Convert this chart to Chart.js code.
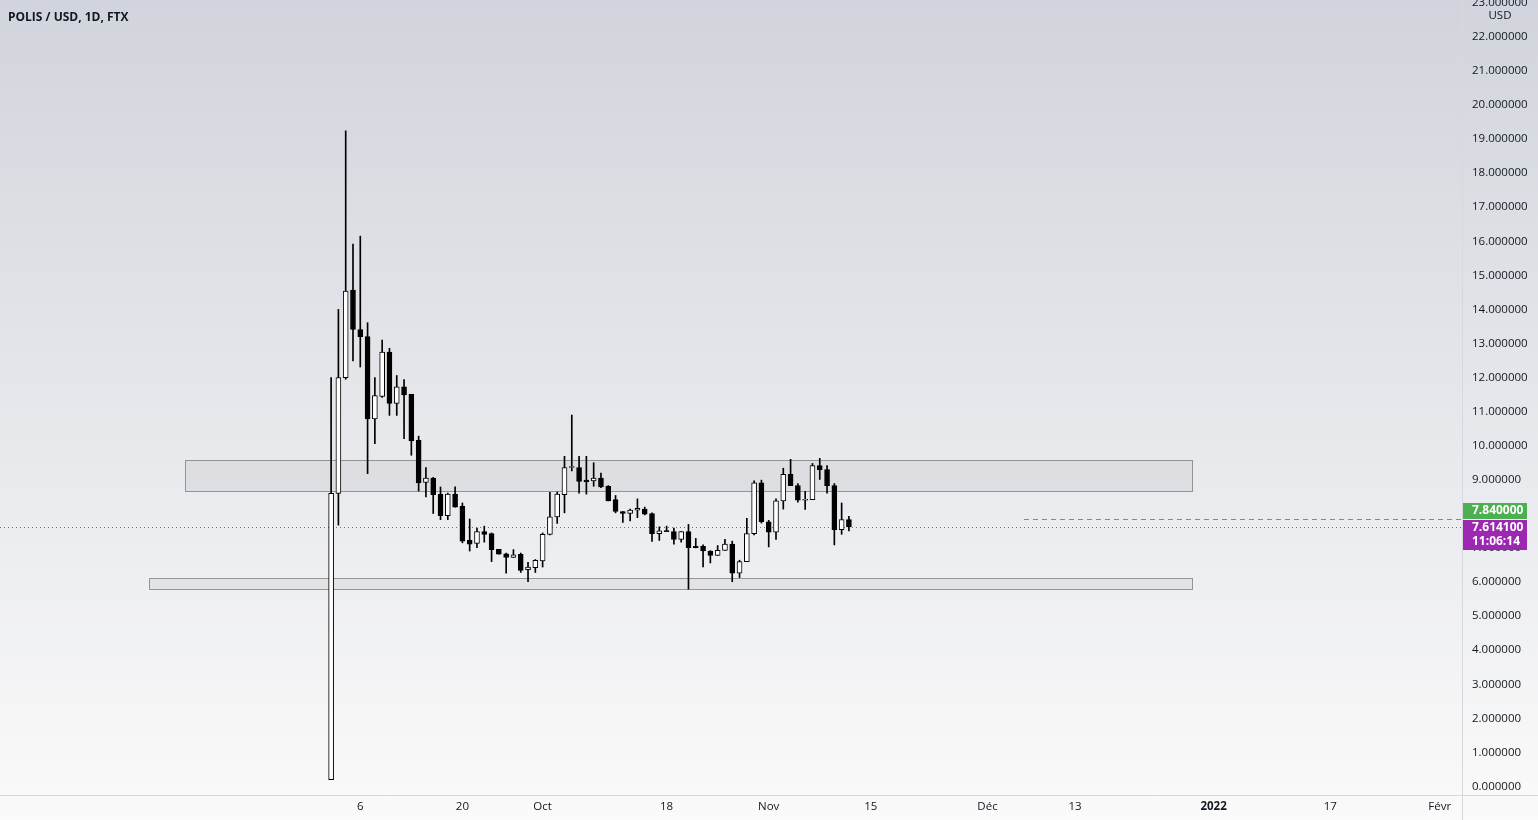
<!DOCTYPE html>
<html>
<head>
<meta charset="utf-8">
<title>POLIS / USD, 1D, FTX</title>
<script src="https://cdn.jsdelivr.net/npm/chart.js@4.4.0/dist/chart.umd.min.js"></script>
<style>
  html, body { margin: 0; padding: 0; background: #f4f4f6; }
  #wrap { position: relative; width: 1538px; height: 820px; }
  #title { position: absolute; left: 8px; top: 8px; font: bold 12px 'Open Sans', sans-serif; color: #131722; }
</style>
</head>
<body>
<div id="wrap">
  <canvas id="myChart" width="1538" height="820"></canvas>
  <div id="title">POLIS / USD, 1D, FTX</div>
</div>
<script>
/* globals Chart:false */

// Daily candles, POLIS / USD on FTX
var dates = [
  '2021-09-02', '2021-09-03', '2021-09-04', '2021-09-05', '2021-09-06', '2021-09-07', '2021-09-08', '2021-09-09',
  '2021-09-10', '2021-09-11', '2021-09-12', '2021-09-13', '2021-09-14', '2021-09-15', '2021-09-16', '2021-09-17',
  '2021-09-18', '2021-09-19', '2021-09-20', '2021-09-21', '2021-09-22', '2021-09-23', '2021-09-24', '2021-09-25',
  '2021-09-26', '2021-09-27', '2021-09-28', '2021-09-29', '2021-09-30', '2021-10-01', '2021-10-02', '2021-10-03',
  '2021-10-04', '2021-10-05', '2021-10-06', '2021-10-07', '2021-10-08', '2021-10-09', '2021-10-10', '2021-10-11',
  '2021-10-12', '2021-10-13', '2021-10-14', '2021-10-15', '2021-10-16', '2021-10-17', '2021-10-18', '2021-10-19',
  '2021-10-20', '2021-10-21', '2021-10-22', '2021-10-23', '2021-10-24', '2021-10-25', '2021-10-26', '2021-10-27',
  '2021-10-28', '2021-10-29', '2021-10-30', '2021-10-31', '2021-11-01', '2021-11-02', '2021-11-03', '2021-11-04',
  '2021-11-05', '2021-11-06', '2021-11-07', '2021-11-08', '2021-11-09', '2021-11-10', '2021-11-11', '2021-11-12'
];
var opens = [
  0.20, 8.60, 12.00, 14.57, 13.41, 13.20, 10.79, 11.45, 12.75, 11.24, 11.73, 11.51,
  10.16, 8.92, 9.05, 8.58, 7.95, 8.58, 8.22, 7.22, 7.13, 7.48, 7.42, 6.96,
  6.83, 6.72, 6.81, 6.36, 6.42, 6.62, 7.40, 7.91, 8.56, 9.36, 9.36, 8.99,
  8.97, 9.05, 8.81, 8.42, 8.07, 8.01, 8.11, 8.14, 8.01, 7.42, 7.50, 7.48,
  7.25, 7.48, 7.05, 7.05, 6.91, 6.78, 6.93, 7.11, 6.26, 6.60, 7.42, 8.91,
  7.77, 7.46, 8.38, 9.16, 8.83, 8.40, 8.42, 9.42, 9.30, 8.83, 7.54, 7.83
];
var highs = [
  12.00, 14.00, 19.24, 15.92, 16.15, 13.61, 12.00, 13.10, 12.86, 12.06, 11.94, 11.51,
  10.28, 9.36, 9.07, 8.79, 8.61, 8.79, 8.32, 7.85, 7.58, 7.64, 7.44, 6.96,
  6.85, 6.95, 6.85, 6.58, 6.66, 7.44, 8.63, 8.64, 9.69, 10.90, 9.69, 9.69,
  9.50, 9.20, 8.83, 8.54, 8.07, 8.14, 8.44, 8.20, 8.03, 7.62, 7.64, 7.58,
  7.48, 7.69, 7.28, 7.09, 6.92, 7.07, 7.25, 7.20, 6.64, 7.87, 8.97, 8.99,
  7.81, 8.44, 9.34, 9.60, 8.89, 8.66, 9.48, 9.63, 9.42, 8.89, 8.32, 7.93
];
var lows = [
  0.20, 7.67, 11.95, 12.49, 12.31, 9.18, 10.06, 11.42, 10.89, 10.89, 10.21, 9.72,
  8.67, 8.50, 8.01, 7.83, 7.83, 8.20, 7.15, 6.91, 7.01, 7.17, 6.60, 6.82,
  6.26, 6.72, 6.28, 6.01, 6.28, 6.44, 7.38, 7.72, 8.03, 9.26, 8.61, 8.58,
  8.81, 8.77, 8.38, 8.03, 7.75, 7.79, 7.89, 7.97, 7.19, 7.22, 7.48, 7.11,
  7.17, 5.79, 7.00, 6.44, 6.56, 6.78, 6.93, 6.01, 6.13, 6.60, 7.38, 7.73,
  7.03, 7.25, 8.14, 8.83, 8.34, 8.13, 8.42, 9.01, 8.61, 7.09, 7.40, 7.50
];
var closes = [
  8.60, 12.00, 14.54, 13.41, 13.20, 10.79, 11.47, 12.75, 11.24, 11.73, 11.49, 10.14,
  8.91, 9.05, 8.56, 7.95, 8.58, 8.20, 7.20, 7.11, 7.48, 7.40, 6.95, 6.82,
  6.72, 6.80, 6.34, 6.44, 6.64, 7.40, 7.91, 8.58, 9.36, 9.37, 8.95, 8.94,
  9.05, 8.79, 8.38, 8.07, 8.01, 8.11, 8.16, 7.99, 7.42, 7.50, 7.48, 7.25,
  7.48, 7.01, 7.01, 6.91, 6.78, 6.93, 7.11, 6.26, 6.60, 7.42, 8.91, 7.77,
  7.46, 8.38, 9.16, 8.83, 8.40, 8.42, 9.42, 9.30, 8.83, 7.54, 7.83, 7.6141
];

// time axis labels
var tickDates = ['2021-09-06', '2021-09-20', '2021-10-01', '2021-10-18', '2021-11-01', '2021-11-15',
  '2021-12-01', '2021-12-13', '2022-01-01', '2022-01-17', '2022-02-01'];
var tickLabels = ['6', '20', 'Oct', '18', 'Nov', '15', 'Déc', '13', '2022', '17', 'Févr'];
var priceTicks = [0, 1, 2, 3, 4, 5, 6, 7, 8, 9, 10, 11, 12, 13, 14, 15, 16, 17, 18, 19, 20, 21, 22, 23];

// drawn zones (rectangles)
var zoneStarts = ['2021-08-13', '2021-08-08'];
var zoneEnds = ['2021-12-29', '2021-12-29'];
var zoneTops = [9.59, 6.12];
var zoneBottoms = [8.66, 5.79];

// price lines on the right scale
var lastPrice = 7.6141;
var lastLabel = '7.614100';
var countdown = '11:06:14';
var linePrice = 7.84;
var lineLabel = '7.840000';
var lineStart = '2021-12-06';

// visible range in days from 2021-09-01
var viewStart = -44.4;
var viewEnd = 156.06;

var dayOf = function (s) {
  return Math.round((Date.parse(s) - Date.parse('2021-09-01')) / 864e5);
};

var xs = dates.map(dayOf);
var wickData = xs.map(function (x, i) { return { x: x, y: [lows[i], highs[i]] }; });
var bodyData = xs.map(function (x, i) { return { x: x, y: [opens[i], closes[i]] }; });
var bodyColors = closes.map(function (c, i) { return c >= opens[i] ? '#ffffff' : '#000000'; });

var FONT = "'Open Sans', sans-serif";

// no room kept for half labels at the ends of an axis
var noPadding = function (scale) {
  scale.paddingTop = 0;
  scale.paddingBottom = 0;
  scale.paddingLeft = 0;
  scale.paddingRight = 0;
};

// background, zones and price lines
var drawings = {
  id: 'drawings',
  beforeDraw: function (chart) {
    var c = chart.ctx;
    var g = c.createLinearGradient(0, 0, 0, chart.height);
    g.addColorStop(0, '#d1d4dc');
    g.addColorStop(1, '#fafafa');
    c.save();
    c.fillStyle = g;
    c.fillRect(0, 0, chart.width, chart.height);
    c.restore();
  },
  beforeDatasetsDraw: function (chart) {
    var c = chart.ctx;
    var x = chart.scales.x, y = chart.scales.y, a = chart.chartArea;
    c.save();
    c.beginPath();
    c.rect(a.left, a.top, a.right - a.left, a.bottom - a.top);
    c.clip();
    for (var i = 0; i < zoneStarts.length; i++) {
      var x0 = Math.round(x.getPixelForValue(dayOf(zoneStarts[i]))) + 0.5;
      var x1 = Math.round(x.getPixelForValue(dayOf(zoneEnds[i]))) + 0.5;
      var y0 = Math.round(y.getPixelForValue(zoneTops[i])) + 0.5;
      var y1 = Math.round(y.getPixelForValue(zoneBottoms[i])) + 0.5;
      c.fillStyle = 'rgba(150, 150, 155, 0.13)';
      c.fillRect(x0, y0, x1 - x0, y1 - y0);
      c.strokeStyle = 'rgba(120, 120, 120, 0.75)';
      c.lineWidth = 1;
      c.strokeRect(x0, y0, x1 - x0, y1 - y0);
    }
    // last price, dotted
    var yl = Math.round(y.getPixelForValue(lastPrice)) + 0.5;
    c.strokeStyle = '#b040c8';
    c.setLineDash([1, 3]);
    c.beginPath();
    c.moveTo(a.left, yl);
    c.lineTo(a.right, yl);
    c.stroke();
    // horizontal ray, dashed
    var yg = Math.round(y.getPixelForValue(linePrice)) + 0.5;
    c.strokeStyle = '#4caf50';
    c.setLineDash([5, 4]);
    c.beginPath();
    c.moveTo(x.getPixelForValue(dayOf(lineStart)), yg);
    c.lineTo(a.right, yg);
    c.stroke();
    c.restore();
  },
  afterDraw: function (chart) {
    var c = chart.ctx;
    var y = chart.scales.y, a = chart.chartArea;
    c.save();
    // axis separators
    c.strokeStyle = '#d6d8de';
    c.lineWidth = 1;
    c.beginPath();
    c.moveTo(a.right + 0.5, 0);
    c.lineTo(a.right + 0.5, chart.height);
    c.moveTo(0, a.bottom + 0.5);
    c.lineTo(chart.width, a.bottom + 0.5);
    c.stroke();

    c.fillStyle = '#131722';
    c.font = '11.5px ' + FONT;
    c.textAlign = 'center';
    c.textBaseline = 'middle';
    c.fillText('USD', 1500, 16);

    // price labels
    var yl = y.getPixelForValue(lastPrice);
    var pTop = Math.round(yl) - 7;
    c.fillStyle = '#9c27b0';
    c.fillRect(a.right + 1, pTop, 64, 30);
    c.fillStyle = '#4caf50';
    c.fillRect(a.right + 1, pTop - 17, 64, 16);
    c.fillStyle = '#ffffff';
    c.font = 'bold 12px ' + FONT;
    c.textAlign = 'left';
    c.fillText(lineLabel, a.right + 10, pTop - 9);
    c.fillText(lastLabel, a.right + 10, pTop + 8);
    c.fillText(countdown, a.right + 10, pTop + 22);
    c.restore();
  }
};

var ctx = document.getElementById('myChart').getContext('2d');

var myChart = new Chart(ctx, {
  type: 'bar',
  data: {
    datasets: [{
      label: 'body',
      data: bodyData,
      backgroundColor: bodyColors,
      borderColor: '#000000',
      borderWidth: 1,
      borderSkipped: false,
      barThickness: 5,
      minBarLength: 1,
      grouped: false,
      order: 0
    }, {
      label: 'wick',
      data: wickData,
      backgroundColor: '#000000',
      barThickness: 1,
      grouped: false,
      order: 1
    }]
  },
  options: {
    responsive: false,
    animation: false,
    layout: { padding: 0 },
    plugins: {
      legend: { display: false },
      tooltip: { enabled: false }
    },
    scales: {
      x: {
        type: 'linear',
        min: viewStart,
        max: viewEnd,
        offset: false,
        grid: { display: false, drawTicks: false },
        border: { display: false },
        afterFit: function (scale) { scale.height = 25; noPadding(scale); },
        afterBuildTicks: function (scale) {
          scale.ticks = tickDates.map(function (d) { return { value: dayOf(d) }; });
        },
        ticks: {
          autoSkip: false,
          maxRotation: 0,
          padding: 5,
          color: '#131722',
          font: function (c) {
            return { family: FONT, size: 11.5, weight: c.index === 8 ? 'bold' : 'normal' };
          },
          callback: function (v, i) { return tickLabels[i]; }
        }
      },
      y: {
        type: 'linear',
        position: 'right',
        min: -0.25,
        max: 23.08,
        grid: { display: false, drawTicks: false },
        border: { display: false },
        afterFit: function (scale) { scale.width = 76; noPadding(scale); },
        afterBuildTicks: function (scale) {
          scale.ticks = priceTicks.map(function (v) { return { value: v }; });
        },
        ticks: {
          autoSkip: false,
          padding: 10,
          color: '#131722',
          font: { family: FONT, size: 11.5 },
          callback: function (v) { return Number(v).toFixed(6); }
        }
      }
    }
  },
  plugins: [drawings]
});
</script>
</body>
</html>
